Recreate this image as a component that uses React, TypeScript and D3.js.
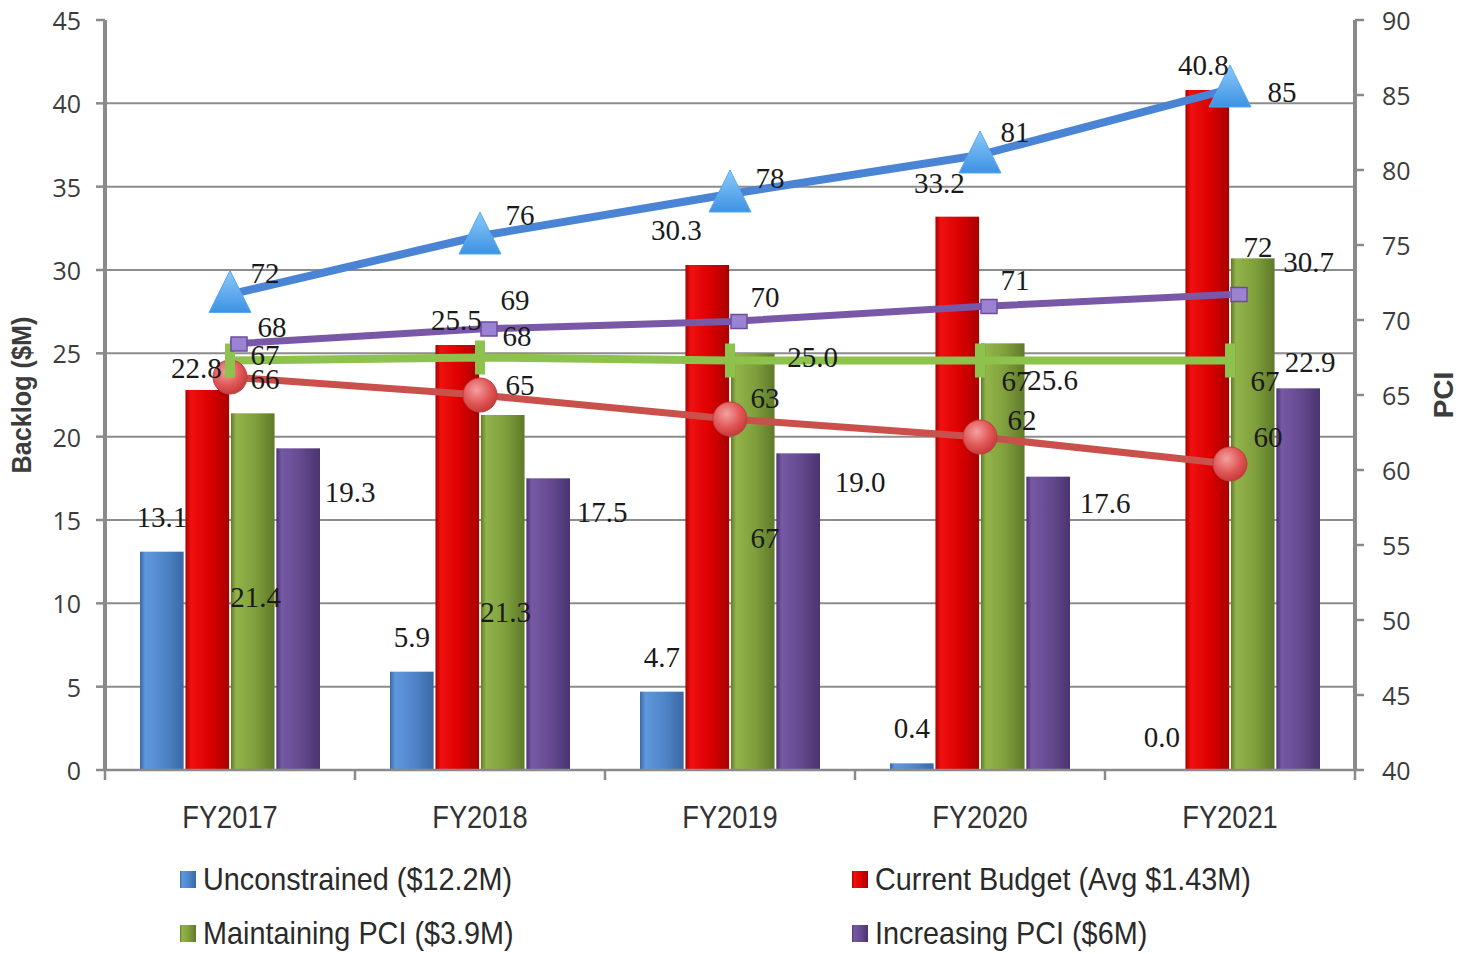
import React from 'react';
import * as d3 from 'd3';

// categories + values
const categories = ['FY2017', 'FY2018', 'FY2019', 'FY2020', 'FY2021'];

const unconstrained = [13.1, 5.9, 4.7, 0.4, 0.0];
const currentBudget = [22.8, 25.5, 30.3, 33.2, 40.8];
const maintainingPci = [21.4, 21.3, 25.0, 25.6, 30.7];
const increasingPci = [19.3, 17.5, 19.0, 17.6, 22.9];

const pciUnconstrained = [71.7, 75.6, 78.4, 81.0, 85.4];
const pciIncreasing = [68.4, 69.4, 69.9, 70.9, 71.7];
const pciMaintaining = [67.3, 67.5, 67.3, 67.3, 67.3];
const pciCurrent = [66.2, 65.0, 63.4, 62.2, 60.4];

const leftTicks = [0, 5, 10, 15, 20, 25, 30, 35, 40, 45];
const rightTicks = [40, 45, 50, 55, 60, 65, 70, 75, 80, 85, 90];

const legendLabels = [
    'Unconstrained ($12.2M)',
    'Current Budget (Avg $1.43M)',
    'Maintaining PCI ($3.9M)',
    'Increasing PCI ($6M)',
];

// label nudges [dx, dy] (Excel placed them by hand)
const barLabelNudge = [
    [[0, -35], [0, -35], [0, -35], [0, -35], [0, -33]],
    [[-11, -22], [-1, -25], [-31, -35], [-18, -34], [-4, -25]],
    [[3, 184], [3, 197], [60, 4], [50, 37], [56, 4]],
    [[52, 44], [54, 34], [62, 29], [57, 26], [12, -26]],
];
const lineLabelNudge = {
    blue: [[35, -22], [40, -21], [40, -16], [35, -23], [52, 3]],
    purple: [[42, -17], [35, -29], [35, -25], [35, -27], [28, -48]],
    green: [[35, -6], [37, -22], [35, 177], [36, 20], [35, 20]],
    red: [[35, 2], [40, -10], [35, -21], [42, -17], [38, -27]],
};

const W = 1460;
const H = 954;
const margin = { top: 20, right: 105, bottom: 184, left: 105 };

const barSeries = [
    { key: 'u', values: unconstrained, grad: 'gBlue' },
    { key: 'c', values: currentBudget, grad: 'gRed' },
    { key: 'm', values: maintainingPci, grad: 'gGreen' },
    { key: 'i', values: increasingPci, grad: 'gPurple' },
];

const tickFont = '"Open Sans", "DejaVu Sans", sans-serif';
const narrowFont = '"Liberation Sans", sans-serif';
const labelFont = '"Liberation Serif", "DejaVu Serif", serif';

function barGradient(id, dark, mid, light) {
    return (
        <linearGradient id={id} x1="0" x2="1" y1="0" y2="0">
            <stop offset="0" stopColor={dark} />
            <stop offset="0.12" stopColor={light} />
            <stop offset="0.55" stopColor={mid} />
            <stop offset="1" stopColor={dark} />
        </linearGradient>
    );
}

// no condensed font installed, squeeze horizontally instead
function Narrow({ x, y, sx = 0.88, anchor = 'start', children, ...rest }) {
    return (
        <text
            transform={`translate(${x},${y}) scale(${sx},1)`}
            textAnchor={anchor}
            dominantBaseline="central"
            {...rest}
        >
            {children}
        </text>
    );
}

export default function App() {
    const x0 = d3.scaleBand(categories, [margin.left, W - margin.right]);
    const x1 = d3
        .scaleBand(barSeries.map((s) => s.key), [35, 215])
        .paddingInner(0.04);
    const yL = d3.scaleLinear([0, 45], [H - margin.bottom, margin.top]);
    const yR = d3.scaleLinear([40, 90], [H - margin.bottom, margin.top]);
    const cx = (i) => x0(categories[i]) + x0.bandwidth() / 2;
    const fmt1 = d3.format('.1f');
    const fmt0 = d3.format('.0f');

    const line = d3.line((d, i) => cx(i), (d) => yR(d));
    const baseY = yL(0);
    const plotL = margin.left;
    const plotR = W - margin.right;

    const lineSeries = [
        { key: 'red', values: pciCurrent, color: '#c9504b', width: 7 },
        { key: 'green', values: pciMaintaining, color: '#8dc24c', width: 8 },
        { key: 'purple', values: pciIncreasing, color: '#7a58a8', width: 7 },
        { key: 'blue', values: pciUnconstrained, color: '#4a84d4', width: 8 },
    ];

    return (
        <div style={{ position: 'absolute', left: 0, top: 0 }}>
            <svg width={W} height={H} style={{ display: 'block', background: '#fff' }}>
                <defs>
                    {barGradient('gBlue', '#3a68a6', '#4f86c9', '#5e98dc')}
                    {barGradient('gRed', '#a80000', '#dc0000', '#f01010')}
                    {barGradient('gGreen', '#5f7a2a', '#7f9f3c', '#92b44a')}
                    {barGradient('gPurple', '#4a3470', '#654a90', '#7658a4')}
                    <linearGradient id="gTri" x1="0" x2="0" y1="0" y2="1">
                        <stop offset="0" stopColor="#8ccaf8" />
                        <stop offset="1" stopColor="#3c92e4" />
                    </linearGradient>
                    <radialGradient id="gDot" cx="0.4" cy="0.35" r="0.7">
                        <stop offset="0" stopColor="#f4a0a0" />
                        <stop offset="0.6" stopColor="#e05454" />
                        <stop offset="1" stopColor="#c03838" />
                    </radialGradient>
                </defs>

                {/* grid */}
                <g stroke="#8c8c8c" strokeWidth="2">
                    {leftTicks.filter((t) => t > 0 && t < 45).map((t) => (
                        <line key={t} x1={plotL} x2={plotR} y1={yL(t)} y2={yL(t)} />
                    ))}
                </g>

                {/* bars */}
                {barSeries.map((s) => (
                    <g key={s.key} fill={`url(#${s.grad})`}>
                        {s.values.map((v, i) => (
                            <rect
                                key={i}
                                x={x0(categories[i]) + x1(s.key)}
                                y={yL(v)}
                                width={x1.bandwidth()}
                                height={baseY - yL(v)}
                            />
                        ))}
                    </g>
                ))}

                {/* axes */}
                <g stroke="#8a8a8a" strokeWidth="4">
                    <line x1={plotL} x2={plotL} y1={margin.top} y2={baseY} />
                    <line x1={plotR} x2={plotR} y1={margin.top} y2={baseY} />
                </g>
                <g stroke="#8a8a8a" strokeWidth="2.5">
                    <line x1={plotL} x2={plotR} y1={baseY} y2={baseY} />
                    {leftTicks.map((t) => (
                        <line key={t} x1={plotL - 9} x2={plotL} y1={yL(t)} y2={yL(t)} />
                    ))}
                    {rightTicks.map((t) => (
                        <line key={t} x1={plotR} x2={plotR + 9} y1={yR(t)} y2={yR(t)} />
                    ))}
                    {categories.map((c) => (
                        <line key={c} x1={x0(c)} x2={x0(c)} y1={baseY} y2={baseY + 10} />
                    ))}
                    <line x1={plotR} x2={plotR} y1={baseY} y2={baseY + 10} />
                </g>

                <g fontFamily={tickFont} fontSize="25" fill="#3c3c3c">
                    {leftTicks.map((t) => (
                        <text key={t} x={plotL - 24} y={yL(t)} textAnchor="end" dominantBaseline="central">
                            {t}
                        </text>
                    ))}
                    {rightTicks.map((t) => (
                        <text key={t} x={plotR + 27} y={yR(t)} dominantBaseline="central">
                            {t}
                        </text>
                    ))}
                </g>
                <g fontFamily={narrowFont} fontSize="31" fill="#333">
                    {categories.map((c, i) => (
                        <Narrow key={c} x={cx(i)} y={817} anchor="middle">
                            {c}
                        </Narrow>
                    ))}
                </g>
                <g fontFamily={narrowFont} fontWeight="bold" fontSize="28" fill="#3c3c3c">
                    <text
                        transform={`translate(22, ${(margin.top + baseY) / 2}) rotate(-90) scale(0.9,1)`}
                        textAnchor="middle"
                        dominantBaseline="central"
                    >
                        Backlog ($M)
                    </text>
                    <text
                        transform={`translate(1443, ${(margin.top + baseY) / 2}) rotate(-90)`}
                        textAnchor="middle"
                        dominantBaseline="central"
                    >
                        PCI
                    </text>
                </g>

                {/* PCI lines */}
                {lineSeries.map((s) => (
                    <path
                        key={s.key}
                        d={line(s.values)}
                        fill="none"
                        stroke={s.color}
                        strokeWidth={s.width}
                        strokeLinejoin="round"
                    />
                ))}
                {pciCurrent.map((v, i) => (
                    <circle key={'r' + i} cx={cx(i)} cy={yR(v)} r="17" fill="url(#gDot)" stroke="#c04040" strokeWidth="1" />
                ))}
                {pciMaintaining.map((v, i) => (
                    <rect key={'g' + i} x={cx(i) - 5} y={yR(v) - 17} width="10" height="34" fill="#8dc24c" />
                ))}
                {pciIncreasing.map((v, i) => (
                    <rect key={'p' + i} x={cx(i) + 1} y={yR(v) - 7} width="16" height="14" fill="#9c82d2" stroke="#6c4c9c" strokeWidth="1.5" />
                ))}
                {pciUnconstrained.map((v, i) => (
                    <path
                        key={'b' + i}
                        d={`M${cx(i)},${yR(v) - 24}L${cx(i) + 21},${yR(v) + 18}L${cx(i) - 21},${yR(v) + 18}Z`}
                        fill="url(#gTri)"
                        stroke="#5aa8ee"
                        strokeWidth="1"
                    />
                ))}

                {/* data labels */}
                <g fontFamily={labelFont} fontSize="29" fill="#1a1a1a" textAnchor="middle" dominantBaseline="central">
                    {barSeries.map((s, si) =>
                        s.values.map((v, i) => (
                            <text
                                key={s.key + i}
                                x={x0(categories[i]) + x1(s.key) + x1.bandwidth() / 2 + barLabelNudge[si][i][0]}
                                y={yL(v) + barLabelNudge[si][i][1]}
                            >
                                {fmt1(v)}
                            </text>
                        )),
                    )}
                    {lineSeries.map((s) =>
                        s.values.map((v, i) => (
                            <text
                                key={s.key + i}
                                x={cx(i) + lineLabelNudge[s.key][i][0]}
                                y={yR(v) + lineLabelNudge[s.key][i][1]}
                            >
                                {fmt0(v)}
                            </text>
                        )),
                    )}
                </g>

                {/* legend */}
                <g fontFamily={narrowFont} fontSize="31" fill="#2a2a2a">
                    {legendLabels.map((l, i) => {
                        const lx = i % 2 === 0 ? 180 : 852;
                        const ly = i < 2 ? 879 : 933;
                        return (
                            <g key={l}>
                                <rect x={lx} y={ly - 8} width="16" height="17" fill={`url(#${barSeries[i].grad})`} />
                                <Narrow x={lx + 23} y={ly} sx={0.93}>
                                    {l}
                                </Narrow>
                            </g>
                        );
                    })}
                </g>
            </svg>
        </div>
    );
}
